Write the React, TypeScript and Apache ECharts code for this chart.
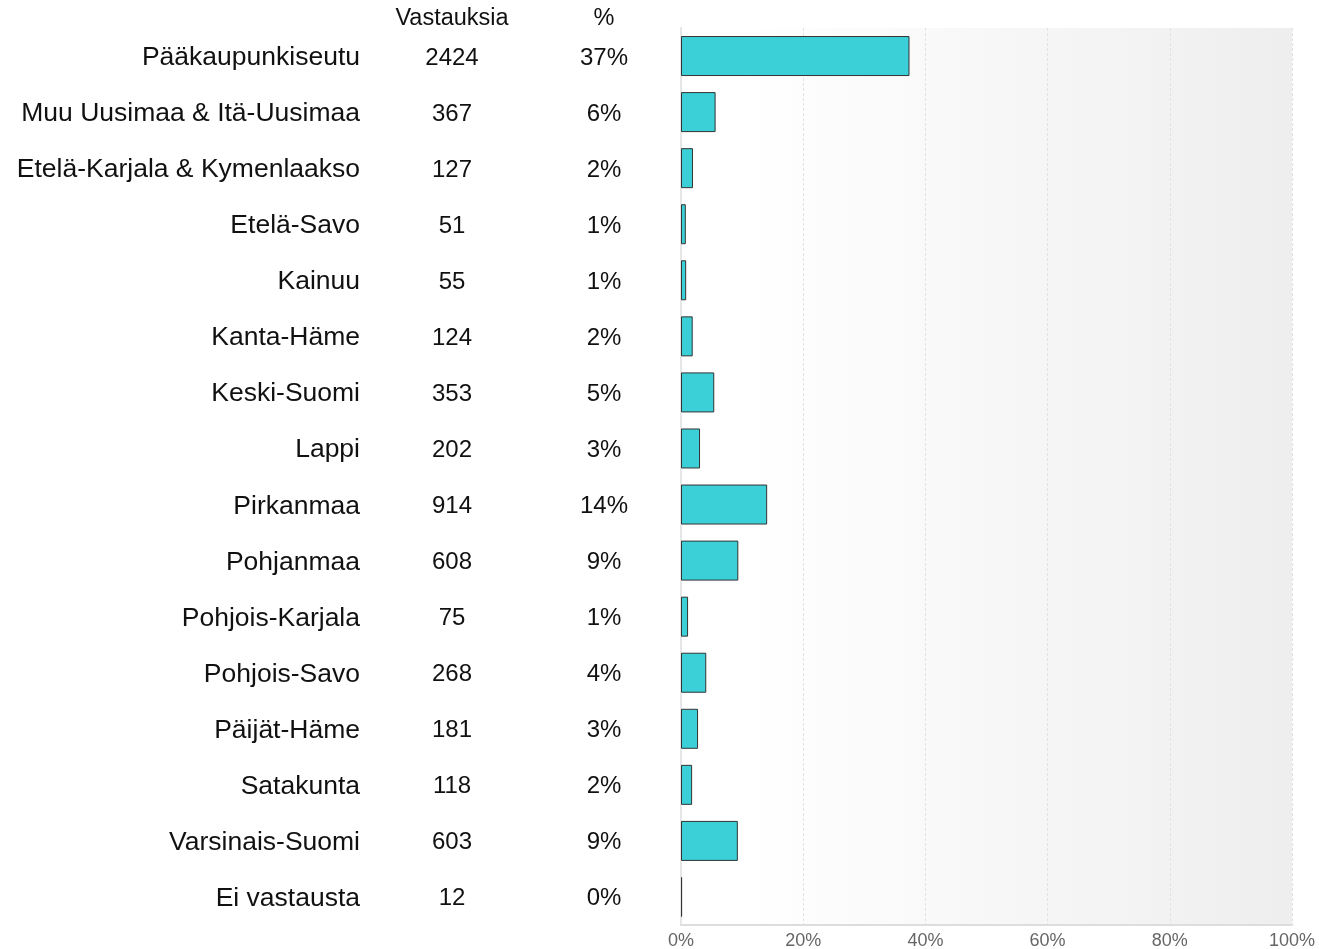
import React, { useEffect, useRef } from "react";
import * as echarts from "echarts";

const categories = [
  "Pääkaupunkiseutu",
  "Muu Uusimaa & Itä-Uusimaa",
  "Etelä-Karjala & Kymenlaakso",
  "Etelä-Savo",
  "Kainuu",
  "Kanta-Häme",
  "Keski-Suomi",
  "Lappi",
  "Pirkanmaa",
  "Pohjanmaa",
  "Pohjois-Karjala",
  "Pohjois-Savo",
  "Päijät-Häme",
  "Satakunta",
  "Varsinais-Suomi",
  "Ei vastausta",
];
const counts = [2424, 367, 127, 51, 55, 124, 353, 202, 914, 608, 75, 268, 181, 118, 603, 12];
const headerCount = "Vastauksia";
const headerPct = "%";
const xTicks = [0, 20, 40, 60, 80, 100];

const total = counts.reduce((a, b) => a + b, 0);
const shares = counts.map((c) => (c / total) * 100);
const pctLabels = shares.map((s) => Math.round(s) + "%");

const FONT = "'Liberation Sans', Arial, sans-serif";

export default function App() {
  const ref = useRef<HTMLDivElement>(null);
  useEffect(() => {
    if (!ref.current) return;
    const chart = echarts.init(ref.current, null, { renderer: "svg" });
    const gridLeft = 681;
    const catAxisCommon = {
      type: "category" as const,
      inverse: true,
      position: "left" as const,
      axisTick: { show: false },
      axisLine: { show: false },
      splitLine: { show: false },
    };
    chart.setOption({
      animation: false,
      textStyle: { fontFamily: FONT },
      grid: {
        left: gridLeft,
        right: 27,
        top: 28,
        bottom: 24,
        show: true,
        borderWidth: 0,
        backgroundColor: new echarts.graphic.LinearGradient(0, 0, 1, 0, [
          { offset: 0, color: "#ffffff" },
          { offset: 0.1, color: "#ffffff" },
          { offset: 1, color: "#eeeeee" },
        ]),
      },
      xAxis: {
        type: "value",
        min: 0,
        max: 100,
        interval: 20,
        axisLine: { show: true, lineStyle: { color: "#dddddd", width: 2 } },
        axisTick: { show: false },
        axisLabel: {
          formatter: (v: number) => (xTicks.includes(v) ? v + "%" : ""),
          color: "#666666",
          fontSize: 18,
          fontFamily: FONT,
          margin: 6,
        },
        splitLine: {
          show: true,
          lineStyle: { color: "#e2e2e2", type: [3, 2], width: 1 },
        },
      },
      yAxis: [
        {
          ...catAxisCommon,
          data: categories,
          axisLine: { show: true, lineStyle: { color: "#e6e6e6", width: 2 } },
          axisLabel: {
            margin: gridLeft - 360,
            align: "right",
            color: "#111111",
            fontSize: 26.5,
            fontFamily: FONT,
          },
        },
        {
          ...catAxisCommon,
          data: counts.map(String),
          axisLabel: {
            margin: gridLeft - 452,
            align: "center",
            color: "#111111",
            fontSize: 24,
            fontFamily: FONT,
          },
        },
        {
          ...catAxisCommon,
          data: pctLabels,
          axisLabel: {
            margin: gridLeft - 604,
            align: "center",
            color: "#111111",
            fontSize: 24,
            fontFamily: FONT,
          },
        },
      ],
      graphic: [
        {
          type: "text",
          x: 452,
          y: 17,
          style: {
            text: headerCount,
            fill: "#111111",
            font: "23.5px " + FONT,
            textAlign: "center",
            textVerticalAlign: "middle",
          },
        },
        {
          type: "text",
          x: 604,
          y: 17,
          style: {
            text: headerPct,
            fill: "#111111",
            font: "23.5px " + FONT,
            textAlign: "center",
            textVerticalAlign: "middle",
          },
        },
      ],
      series: [
        {
          type: "bar",
          yAxisIndex: 0,
          data: shares,
          barWidth: 40,
          itemStyle: {
            color: "#3bd0d8",
            borderColor: "#333333",
            borderWidth: 1,
          },
        },
      ],
    });
    return () => chart.dispose();
  }, []);
  return (
    <div
      ref={ref}
      style={{ position: "fixed", left: 0, top: 0, width: 1319, height: 949 }}
    />
  );
}
